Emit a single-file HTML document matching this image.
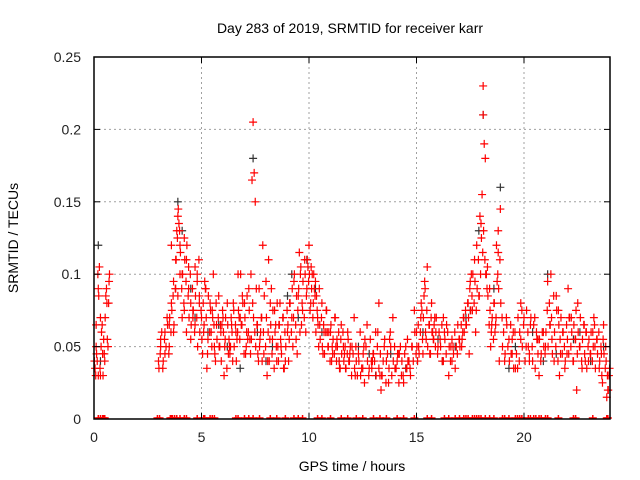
<!DOCTYPE html>
<html><head><meta charset="utf-8"><style>
body{margin:0;background:#fff;}
svg{display:block;font-family:"Liberation Sans",sans-serif;}
</style></head><body>
<svg id="chart" width="640" height="480">
<text x="350" y="33" text-anchor="middle" font-size="14">Day 283 of 2019, SRMTID for receiver karr</text>
<text x="18" y="238" text-anchor="middle" font-size="14" transform="rotate(-90 18 238)">SRMTID / TECUs</text>
<text x="352" y="471" text-anchor="middle" font-size="14">GPS time / hours</text>
<g id="grid"></g><g id="marks"></g><g id="axes"></g>
</svg>
<script>
const xTicks=[0,5,10,15,20];
const yTicks=[0,0.05,0.1,0.15,0.2,0.25];
const yTickLabels=["0","0.05","0.1","0.15","0.2","0.25"];
const redT=[0.05,0.1,0.15,0.2,0.25,0.3,0.35,0.4,0.45,0.5,0.6,0.7,0.1,0.3,0.2,0.4,0.55,0.65,
3.0,3.1,3.2,3.3,3.4,3.5,3.6,3.7,3.8,3.85,3.9,3.95,4.0,4.1,4.2,4.3,4.4,4.5,4.6,4.7,4.8,4.9,3.1,3.3,3.5,3.7,3.9,4.1,4.3,4.5,4.7,4.9,3.6,3.8,4.0,4.2,4.4,4.6,4.8,
5.0,5.1,5.2,5.3,5.4,5.5,5.6,5.7,5.8,5.9,6.0,6.1,6.2,6.3,6.4,6.5,6.6,6.7,6.8,6.9,5.05,5.25,5.45,5.65,5.85,6.05,6.25,6.45,6.65,6.85,5.15,5.55,5.95,6.35,6.75,
7.0,7.1,7.2,7.3,7.4,7.45,7.5,7.55,7.6,7.7,7.8,7.9,8.0,8.1,8.2,8.3,8.4,8.5,8.6,8.7,8.8,8.9,7.05,7.25,7.35,7.65,7.85,8.05,8.25,8.45,8.65,8.85,7.15,7.75,8.15,8.55,
9.0,9.1,9.2,9.3,9.4,9.5,9.6,9.7,9.8,9.9,10.0,10.1,10.2,10.3,10.4,10.5,10.6,10.7,10.8,10.9,11.0,11.1,11.2,11.3,11.4,11.5,11.6,11.7,11.8,11.9,9.05,9.25,9.45,9.65,9.85,10.05,10.25,10.45,10.65,10.85,11.05,11.25,11.45,11.65,11.85,9.55,9.95,10.15,10.35,
12.0,12.2,12.4,12.6,12.8,13.0,13.2,13.4,13.6,13.8,14.0,14.2,14.4,14.6,14.8,12.1,12.3,12.5,12.7,12.9,13.1,13.3,13.5,13.7,13.9,14.1,14.3,14.5,14.7,14.9,12.15,12.55,12.95,13.35,13.75,14.15,14.55,13.25,
15.0,15.1,15.2,15.3,15.4,15.5,15.6,15.7,15.8,15.9,16.0,16.2,16.4,16.6,16.8,15.05,15.25,15.45,15.65,15.85,16.1,16.3,16.5,16.7,16.9,15.35,15.75,16.25,16.65,
17.0,17.1,17.2,17.3,17.4,17.5,17.6,17.7,17.8,17.9,18.0,18.05,18.1,18.15,18.2,18.3,18.4,18.5,18.6,18.7,18.8,18.9,17.15,17.45,17.55,17.75,17.95,18.1,18.25,18.45,18.65,18.85,18.8,18.75,
19.0,19.2,19.4,19.6,19.8,20.0,20.2,20.4,20.6,20.8,19.1,19.3,19.5,19.7,19.9,20.1,20.3,20.5,20.7,20.9,19.45,19.85,20.25,20.65,
21.0,21.2,21.4,21.6,21.8,22.0,22.2,22.4,22.6,22.8,23.0,23.2,23.4,23.6,23.8,23.95,21.1,21.3,21.5,21.7,21.9,22.1,22.3,22.5,22.7,22.9,23.1,23.3,23.5,23.7,23.9,21.25,21.65,22.05,22.45,22.85,23.25,23.65,23.85];
const redV=[0.035,0.05,0.04,0.09,0.105,0.03,0.06,0.045,0.055,0.04,0.08,0.095,0.065,0.07,0.03,0.045,0.085,0.05,
0.04,0.05,0.035,0.06,0.07,0.05,0.08,0.095,0.11,0.13,0.14,0.135,0.12,0.1,0.125,0.11,0.09,0.08,0.075,0.105,0.095,0.085,0.055,0.045,0.065,0.06,0.085,0.07,0.06,0.055,0.065,0.08,0.12,0.09,0.1,0.075,0.105,0.07,0.1,
0.07,0.06,0.09,0.055,0.08,0.075,0.05,0.065,0.085,0.06,0.07,0.055,0.08,0.05,0.065,0.075,0.06,0.1,0.07,0.085,0.045,0.035,0.06,0.04,0.05,0.03,0.045,0.04,0.055,0.065,0.095,0.1,0.065,0.05,0.07,
0.08,0.06,0.09,0.1,0.205,0.17,0.15,0.09,0.065,0.05,0.07,0.045,0.095,0.06,0.08,0.055,0.075,0.04,0.065,0.05,0.07,0.04,0.045,0.055,0.165,0.04,0.12,0.03,0.09,0.065,0.08,0.035,0.055,0.06,0.04,0.05,
0.06,0.08,0.07,0.095,0.055,0.085,0.1,0.075,0.11,0.09,0.12,0.105,0.08,0.095,0.07,0.065,0.08,0.06,0.075,0.05,0.06,0.045,0.07,0.055,0.04,0.065,0.05,0.035,0.06,0.045,0.04,0.05,0.045,0.065,0.06,0.075,0.09,0.05,0.045,0.06,0.04,0.05,0.035,0.045,0.04,0.115,0.105,0.1,0.085,
0.05,0.04,0.03,0.055,0.035,0.045,0.06,0.03,0.04,0.05,0.035,0.045,0.025,0.04,0.05,0.07,0.045,0.035,0.065,0.04,0.06,0.03,0.05,0.025,0.07,0.04,0.03,0.05,0.035,0.075,0.03,0.05,0.04,0.02,0.055,0.045,0.035,0.08,
0.06,0.05,0.07,0.045,0.09,0.105,0.065,0.08,0.055,0.06,0.05,0.04,0.065,0.05,0.035,0.04,0.075,0.055,0.045,0.07,0.055,0.06,0.03,0.05,0.045,0.085,0.06,0.07,0.04,
0.055,0.05,0.07,0.065,0.08,0.095,0.075,0.11,0.12,0.085,0.135,0.155,0.23,0.19,0.18,0.105,0.09,0.065,0.08,0.07,0.115,0.145,0.06,0.045,0.1,0.06,0.14,0.21,0.1,0.05,0.06,0.04,0.13,0.095,
0.05,0.065,0.045,0.035,0.06,0.07,0.05,0.04,0.055,0.045,0.04,0.055,0.06,0.035,0.075,0.05,0.065,0.07,0.03,0.06,0.045,0.08,0.04,0.055,
0.05,0.065,0.04,0.075,0.06,0.045,0.07,0.055,0.05,0.065,0.04,0.06,0.055,0.045,0.05,0.03,0.095,0.055,0.085,0.045,0.035,0.07,0.04,0.08,0.035,0.06,0.045,0.05,0.035,0.065,0.02,0.1,0.03,0.09,0.02,0.04,0.07,0.025,0.015];
const red2T=[0.02,0.08,0.12,0.18,0.22,0.28,0.33,0.38,0.42,0.48,0.52,0.58,0.62,0.68,0.72,
3.02,3.08,3.15,3.22,3.28,3.35,3.42,3.48,3.52,3.58,3.62,3.68,3.72,3.78,3.82,3.88,3.92,3.98,4.02,4.08,4.12,4.18,4.22,4.28,4.32,4.38,4.42,4.48,4.52,4.58,4.62,4.68,4.72,4.78,4.82,4.88,4.92,4.98,
5.02,5.08,5.12,5.18,5.22,5.28,5.32,5.38,5.42,5.48,5.52,5.58,5.62,5.68,5.72,5.78,5.82,5.88,5.92,5.98,6.02,6.08,6.12,6.18,6.22,6.28,6.32,6.38,6.42,6.48,6.52,6.58,6.62,6.68,6.72,6.78,6.82,6.88,6.92,6.98,
7.02,7.08,7.12,7.18,7.22,7.28,7.32,7.38,7.42,7.48,7.52,7.58,7.62,7.68,7.72,7.78,7.82,7.88,7.92,7.98,8.02,8.08,8.12,8.18,8.22,8.28,8.32,8.38,8.42,8.48,8.52,8.58,8.62,8.68,8.72,8.78,8.82,8.88,8.92,8.98,
9.02,9.08,9.12,9.18,9.22,9.28,9.32,9.38,9.42,9.48,9.52,9.58,9.62,9.68,9.72,9.78,9.82,9.88,9.92,9.98,10.02,10.08,10.12,10.18,10.22,10.28,10.32,10.38,10.42,10.48,10.52,10.58,10.62,10.68,10.72,10.78,10.82,10.88,10.92,10.98,
11.02,11.08,11.12,11.18,11.22,11.28,11.32,11.38,11.42,11.48,11.52,11.58,11.62,11.68,11.72,11.78,11.82,11.88,11.92,11.98,
12.05,12.12,12.18,12.25,12.32,12.38,12.45,12.52,12.58,12.65,12.72,12.78,12.85,12.92,12.98,13.05,13.12,13.18,13.25,13.32,13.38,13.45,13.52,13.58,13.65,13.72,13.78,13.85,13.92,13.98,14.05,14.12,14.18,14.25,14.32,14.38,14.45,14.52,14.58,14.65,14.72,14.78,14.85,14.92,14.98,
15.02,15.08,15.12,15.18,15.22,15.28,15.32,15.38,15.42,15.48,15.52,15.58,15.62,15.68,15.72,15.78,15.82,15.88,15.92,15.98,16.05,16.12,16.18,16.25,16.32,16.38,16.45,16.52,16.58,16.65,16.72,16.78,16.85,16.92,16.98,
17.02,17.08,17.12,17.18,17.22,17.28,17.32,17.38,17.42,17.48,17.52,17.58,17.62,17.68,17.72,17.78,17.82,17.88,17.92,17.98,18.02,18.08,18.12,18.18,18.22,18.28,18.32,18.38,18.42,18.48,18.52,18.58,18.62,18.68,18.72,18.78,18.82,18.88,18.92,18.98,
19.05,19.12,19.18,19.25,19.32,19.38,19.45,19.52,19.58,19.65,19.72,19.78,19.85,19.92,19.98,20.05,20.12,20.18,20.25,20.32,20.38,20.45,20.52,20.58,20.65,20.72,20.78,20.85,20.92,20.98,
21.02,21.08,21.12,21.18,21.22,21.28,21.32,21.38,21.42,21.48,21.52,21.58,21.62,21.68,21.72,21.78,21.82,21.88,21.92,21.98,22.02,22.08,22.12,22.18,22.22,22.28,22.32,22.38,22.42,22.48,22.52,22.58,22.62,22.68,22.72,22.78,22.82,22.88,22.92,22.98,
23.02,23.08,23.12,23.18,23.22,23.28,23.32,23.38,23.42,23.48,23.52,23.58,23.62,23.68,23.72,23.78,23.82,23.88,23.92,23.98];
const red2V=[0.04,0.03,0.045,0.1,0.085,0.035,0.05,0.065,0.03,0.045,0.07,0.09,0.055,0.08,0.1,
0.035,0.045,0.06,0.04,0.055,0.05,0.065,0.045,0.07,0.06,0.075,0.085,0.065,0.09,0.11,0.125,0.145,0.13,0.115,0.09,0.1,0.08,0.11,0.095,0.12,0.085,0.07,0.1,0.065,0.09,0.075,0.06,0.085,0.07,0.05,0.11,0.06,0.075,
0.055,0.08,0.065,0.09,0.07,0.045,0.085,0.06,0.075,0.05,0.07,0.065,0.045,0.08,0.055,0.07,0.05,0.065,0.04,0.075,0.06,0.05,0.07,0.035,0.065,0.055,0.045,0.07,0.06,0.08,0.05,0.065,0.04,0.06,0.075,0.055,0.1,0.065,0.08,0.045,
0.07,0.05,0.085,0.06,0.075,0.045,0.055,0.08,0.07,0.06,0.05,0.065,0.045,0.09,0.055,0.07,0.04,0.06,0.085,0.05,0.07,0.04,0.11,0.055,0.065,0.045,0.075,0.035,0.06,0.05,0.08,0.04,0.065,0.055,0.045,0.07,0.035,0.06,0.05,0.075,
0.065,0.055,0.08,0.06,0.09,0.07,0.1,0.065,0.085,0.075,0.09,0.06,0.105,0.08,0.095,0.07,0.1,0.085,0.11,0.095,0.1,0.08,0.09,0.07,0.1,0.085,0.06,0.075,0.065,0.09,0.055,0.07,0.05,0.065,0.045,0.06,0.075,0.05,0.06,0.04,
0.065,0.05,0.055,0.045,0.07,0.04,0.05,0.06,0.035,0.055,0.045,0.06,0.04,0.05,0.035,0.045,0.055,0.04,0.05,0.03,
0.045,0.035,0.05,0.03,0.04,0.06,0.035,0.045,0.025,0.05,0.04,0.03,0.055,0.035,0.045,0.04,0.03,0.05,0.035,0.045,0.03,0.04,0.055,0.025,0.045,0.035,0.06,0.03,0.04,0.05,0.035,0.045,0.025,0.05,0.04,0.03,0.045,0.035,0.055,0.04,0.03,0.05,0.04,0.06,0.045,
0.05,0.065,0.045,0.06,0.08,0.055,0.07,0.095,0.06,0.075,0.05,0.065,0.045,0.07,0.06,0.055,0.065,0.05,0.07,0.045,0.06,0.05,0.065,0.04,0.055,0.045,0.06,0.05,0.04,0.055,0.045,0.06,0.05,0.065,0.055,
0.05,0.065,0.055,0.07,0.06,0.075,0.065,0.08,0.07,0.09,0.075,0.085,0.1,0.08,0.095,0.075,0.09,0.11,0.085,0.1,0.125,0.115,0.13,0.11,0.1,0.09,0.085,0.065,0.075,0.06,0.07,0.055,0.08,0.065,0.12,0.1,0.09,0.11,0.08,0.07,
0.06,0.045,0.07,0.05,0.04,0.065,0.055,0.035,0.06,0.045,0.07,0.04,0.055,0.05,0.065,0.04,0.075,0.06,0.045,0.07,0.05,0.065,0.035,0.06,0.045,0.055,0.04,0.06,0.05,0.045,
0.06,0.075,0.05,0.08,0.065,0.07,0.045,0.085,0.06,0.05,0.075,0.04,0.065,0.055,0.07,0.045,0.06,0.05,0.04,0.065,0.055,0.045,0.07,0.05,0.06,0.04,0.065,0.055,0.075,0.045,0.06,0.05,0.07,0.04,0.055,0.065,0.045,0.06,0.035,0.05,
0.055,0.045,0.06,0.04,0.05,0.065,0.035,0.055,0.045,0.06,0.04,0.05,0.03,0.055,0.045,0.035,0.04,0.03,0.02,0.035];
const blackT=[0.2,0.3,3.9,4.1,4.5,5.3,6.2,6.8,7.4,7.6,8.3,9.0,9.5,9.9,10.6,11.4,12.3,13.1,13.8,14.5,15.3,16.2,16.8,17.5,17.9,18.1,18.9,19.6,20.4,21.1,21.5,22.3,23.1,23.7,4.7,5.8,8.0,9.2,10.3,12.8,16.0,17.3,18.6,19.3,20.9,22.6];
const blackV=[0.12,0.04,0.15,0.13,0.09,0.06,0.05,0.035,0.18,0.06,0.05,0.085,0.07,0.11,0.06,0.04,0.05,0.03,0.045,0.035,0.06,0.04,0.05,0.075,0.13,0.21,0.16,0.05,0.06,0.1,0.045,0.055,0.04,0.05,0.07,0.065,0.04,0.1,0.09,0.045,0.055,0.07,0.09,0.035,0.04,0.06];
const zeroT=[0.2,0.3,0.4,0.45,0.5,2.95,3.05,3.55,3.6,3.65,3.75,3.85,4.0,4.2,4.3,4.8,5.1,5.15,5.4,5.5,5.6,6.6,6.7,7.0,7.2,7.4,7.7,8.2,8.5,8.9,9.3,9.5,9.7,10.4,10.6,11.0,11.5,11.8,12.2,12.5,13.0,13.3,13.6,14.1,14.4,14.9,15.5,15.7,16.3,16.5,16.8,17.0,17.2,17.3,17.4,17.6,17.7,17.8,17.9,18.0,18.2,18.4,18.6,19.0,19.1,19.3,19.6,19.7,19.8,19.9,20.2,20.3,20.45,20.55,20.7,20.8,21.0,21.1,21.6,22.3,22.4,23.2,23.85,23.9];
const X0=94,X1=610,Y0=419,Y1=57;
const xs=v=>X0+v/24*(X1-X0), ys=v=>Y0-v/0.25*(Y0-Y1);
const NS="http://www.w3.org/2000/svg";
function mk(tag,attrs,parent){const e=document.createElementNS(NS,tag);for(const k in attrs)e.setAttribute(k,attrs[k]);parent.appendChild(e);return e;}
const grid=document.getElementById('grid'),marks=document.getElementById('marks'),axes=document.getElementById('axes');
xTicks.forEach(t=>{const x=xs(t);
 if(t>0){const g=mk('line',{x1:x,x2:x,y1:Y1,y2:Y0,stroke:'#a0a0a0','stroke-dasharray':'2,3'},grid);
 
 }
 const tx=mk('text',{x:x,y:Y0+23,'text-anchor':'middle','font-size':14,fill:'#222'},axes);tx.textContent=t;
 
 
 mk('line',{x1:x,x2:x,y1:Y0,y2:Y0-6,stroke:'#000'},axes);mk('line',{x1:x,x2:x,y1:Y1,y2:Y1+6,stroke:'#000'},axes);});
yTicks.forEach((t,i)=>{const y=ys(t);
 if(t>0&&t<0.25){const g=mk('line',{x1:X0,x2:X1,y1:y,y2:y,stroke:'#a0a0a0','stroke-dasharray':'2,3'},grid);
 
 }
 const tx=mk('text',{x:X0-13,y:y+5,'text-anchor':'end','font-size':14,fill:'#222'},axes);tx.textContent=yTickLabels[i];
 
 
 mk('line',{x1:X0,x2:X0+6,y1:y,y2:y,stroke:'#000'},axes);mk('line',{x1:X1,x2:X1-6,y1:y,y2:y,stroke:'#000'},axes);});
const fr=mk('rect',{x:X0,y:Y1,width:X1-X0,height:Y0-Y1,fill:'none',stroke:'#000','stroke-width':1.5},axes);


function plus(x,y,c,name){const p=mk('path',{d:`M${x-4},${y}h8M${x},${y-4}v8`,stroke:c,'stroke-width':1.2},marks);
 
 }
blackT.forEach((t,i)=>plus(xs(t),ys(blackV[i]),'#333','black-point'));
redT.forEach((t,i)=>plus(xs(t),ys(redV[i]),'#f00','red-point'));
red2T.forEach((t,i)=>plus(xs(t),ys(red2V[i]),'#f00','red-point'));
zeroT.forEach(t=>{const x=xs(t);const p=mk('path',{d:`M${x-4},${Y0-1}h8M${x},${Y0-4}v4`,stroke:'#f00','stroke-width':1.5},marks);
 
 });
</script>
</body></html>
